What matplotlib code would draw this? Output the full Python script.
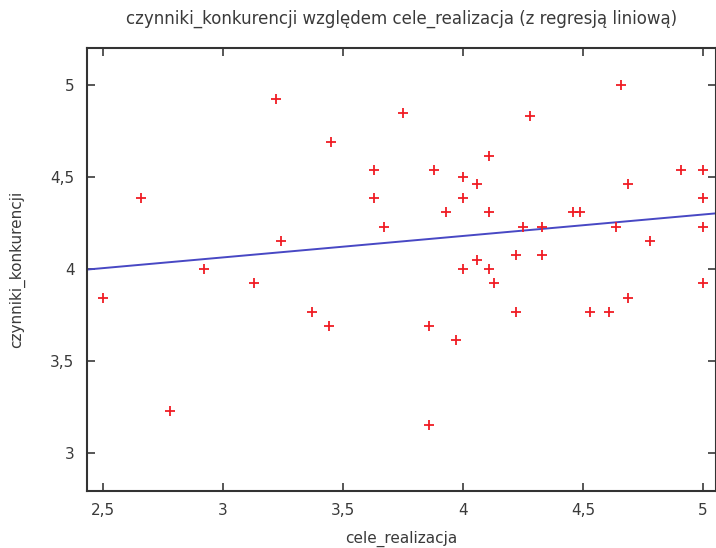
import numpy as np
import matplotlib
matplotlib.use("Agg")
import matplotlib.pyplot as plt
from matplotlib.ticker import FixedLocator, FuncFormatter

# cele_realizacja (x) and czynniki_konkurencji (y) per respondent
cele_realizacja = [
    2.50, 2.66, 2.78, 2.92, 3.13, 3.22, 3.24, 3.37, 3.44, 3.45,
    3.63, 3.63, 3.67, 3.75, 3.86, 3.86, 3.88, 3.93, 3.97, 4.00,
    4.00, 4.00, 4.06, 4.06, 4.11, 4.11, 4.11, 4.13, 4.22, 4.22,
    4.25, 4.28, 4.33, 4.33, 4.46, 4.49, 4.53, 4.61, 4.64, 4.66,
    4.69, 4.69, 4.78, 4.91, 5.00, 5.00, 5.00, 5.00,
]
czynniki_konkurencji = [
    3.846, 4.385, 3.231, 4.000, 3.923, 4.923, 4.154, 3.769, 3.692, 4.692,
    4.538, 4.385, 4.231, 4.846, 3.692, 3.154, 4.538, 4.308, 3.615, 4.500,
    4.385, 4.000, 4.462, 4.051, 4.615, 4.308, 4.000, 3.923, 4.077, 3.769,
    4.231, 4.833, 4.231, 4.077, 4.308, 4.308, 3.769, 3.769, 4.231, 5.000,
    4.462, 3.846, 4.154, 4.538, 4.538, 4.385, 4.231, 3.923,
]

x_ticks = [2.5, 3.0, 3.5, 4.0, 4.5, 5.0]
y_ticks = [3.0, 3.5, 4.0, 4.5, 5.0]

x = np.array(cele_realizacja)
y = np.array(czynniki_konkurencji)
slope, intercept = np.polyfit(x, y, 1)

text_color = "#3a3a3a"

fig = plt.figure(figsize=(7.16, 5.48), dpi=100)
ax = fig.add_axes([0.1215, 0.1046, 0.8785, 0.8073])

xlim = (2.433, 5.055)
ylim = (2.797, 5.2)
ax.set_xlim(*xlim)
ax.set_ylim(*ylim)

xx = np.array(xlim)
ax.plot(xx, intercept + slope * xx, color="#4848c4", lw=1.4, zorder=2)
ax.plot(x, y, linestyle="none", marker="+", markersize=7.5,
        markeredgewidth=1.3, color="#f01c24", zorder=3)

def comma(v, pos):
    return f"{v:g}".replace(".", ",")

ax.xaxis.set_major_locator(FixedLocator(x_ticks))
ax.yaxis.set_major_locator(FixedLocator(y_ticks))
ax.xaxis.set_major_formatter(FuncFormatter(comma))
ax.yaxis.set_major_formatter(FuncFormatter(comma))
ax.tick_params(direction="in", length=6, width=1.2, top=True, right=True,
               labelsize=11, colors=text_color, pad=9)
for sp in ax.spines.values():
    sp.set_linewidth(1.5)
    sp.set_color("#333333")

ax.set_title("czynniki_konkurencji względem cele_realizacja (z regresją liniową)",
             fontsize=12, color=text_color, pad=18)
ax.set_xlabel("cele_realizacja", fontsize=11, color=text_color, labelpad=9)
ax.set_ylabel("czynniki_konkurencji", fontsize=11, color=text_color, labelpad=18)

fig.savefig("out.png", dpi=100)
